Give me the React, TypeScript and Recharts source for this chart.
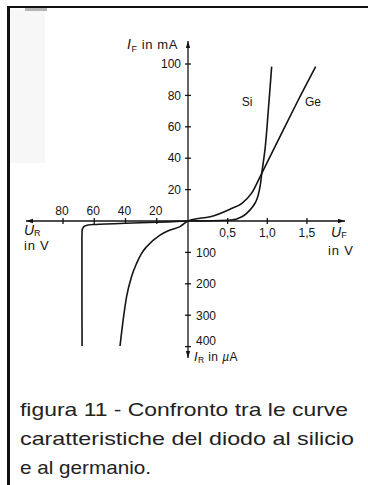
import React from 'react';
import { LineChart, Line, XAxis, YAxis, ReferenceLine, ReferenceDot } from 'recharts';

// ---- Data ----
// Silicon, forward: U_F in V, I_F in mA
const siForwardV = [0, 0.3, 0.5, 0.58, 0.635, 0.69, 0.74, 0.795, 0.845, 0.905, 0.93, 0.97, 1.013, 1.035, 1.055];
const siForwardI = [0, 0.2, 0.5, 0.9, 1.7, 3.0, 4.9, 7.8, 11.3, 21.0, 30.4, 45.2, 70.7, 85.0, 98.3];
// Silicon, reverse: U_R in V, I_R in µA
const siReverseV = [0, 10, 20, 40, 60, 64, 66.8, 67.8, 67.9, 67.9, 67.8];
const siReverseI = [0, 2, 4, 7, 11, 12.5, 18.5, 32, 60, 200, 398];
// Germanium, forward: U_F in V, I_F in mA
const geForwardV = [0, 0.15, 0.28, 0.53, 0.68, 0.8, 0.93, 1.16, 1.37, 1.61];
const geForwardI = [0, 1.7, 2.7, 7.5, 11.3, 17.6, 30.4, 53.7, 75.0, 98.3];
// Germanium, reverse: U_R in V, I_R in µA
const geReverseV = [0, 5.1, 11.5, 17.9, 26.5, 29.7, 32.9, 36.1, 39.3, 41.5, 43.5];
const geReverseI = [0, 18, 29, 45, 82, 103, 135, 177, 241, 315, 398];

// Tick values
const fwdCurrentTicks = [20, 40, 60, 80, 100]; // mA
const revCurrentTicks = [100, 200, 300, 400]; // µA
const fwdVoltageTicks = [0.5, 1.0, 1.5]; // V
const fwdVoltageLabels = ['0,5', '1,0', '1,5'];
const revVoltageTicks = [20, 40, 60, 80]; // V

// Caption
const captionLines = [
  'figura 11 - Confronto tra le curve',
  'caratteristiche del diodo al silicio',
  'e al  germanio.',
];

// ---- Scales of the figure's four half-axes (display units: forward V, forward mA) ----
const UR_SCALE = 0.0197; // display units per reverse volt (20 V spans like ~0.39 V forward)
const IR_SCALE = 0.2; // display units per reverse µA (100 µA spans like 20 mA)

const W = 368;
const H = 485;
const X_DOMAIN: [number, number] = [-2.3707, 2.2699];
const Y_DOMAIN: [number, number] = [-168.15, 140.76];
const X_AXIS_EXTENT = [-2.043, 1.98];
const Y_AXIS_EXTENT = [114.6, -87.3];

const FONT = "'Liberation Sans', Arial, Helvetica, sans-serif";
const INK = '#141414';

const fwdTable = (v: number[], i: number[]) => v.map((x, k) => ({ x, y: i[k] }));
const revTable = (v: number[], i: number[]) => v.map((x, k) => ({ x: -x * UR_SCALE, y: -i[k] * IR_SCALE }));

// Silicon as one path ordered by current (bottom -> top)
const siData = [...revTable(siReverseV, siReverseI).slice(1).reverse(), ...fwdTable(siForwardV, siForwardI)];
// Germanium ordered by voltage (left -> right)
const geData = [...revTable(geReverseV, geReverseI).slice(1).reverse(), ...fwdTable(geForwardV, geForwardI)];

const arrowLine = (p: any) => {
  const { x1, y1, x2, y2 } = p;
  const dx = x2 - x1;
  const dy = y2 - y1;
  const len = Math.hypot(dx, dy) || 1;
  const ux = dx / len;
  const uy = dy / len;
  const L = 7;
  const hw = 2.2;
  const head = (tx: number, ty: number, sx: number, sy: number) => {
    const bx = tx - sx * L;
    const by = ty - sy * L;
    return `M${tx},${ty} L${bx - sy * hw},${by + sx * hw} L${bx + sy * hw},${by - sx * hw} Z`;
  };
  return (
    <g>
      <line x1={x1} y1={y1} x2={x2} y2={y2} stroke={INK} strokeWidth={1.3} />
      <path d={head(x2, y2, ux, uy)} fill={INK} />
      <path d={head(x1, y1, -ux, -uy)} fill={INK} />
    </g>
  );
};

const tickText = {
  fontFamily: FONT,
  fontSize: 12,
  fill: INK,
};

export default function App() {
  return (
    <div style={{ position: 'absolute', left: 0, top: 0, width: W, height: H, background: '#fff', overflow: 'hidden' }}>
      <div style={{ position: 'absolute', left: 10, top: 10, width: 35, height: 153, background: '#f7f7f7' }} />
      <div style={{ position: 'absolute', left: 25, top: 8, width: 22, height: 3, background: '#b5b5b5' }} />
      <div
        style={{
          position: 'absolute',
          left: 7,
          top: 6,
          width: W - 7,
          height: H - 6,
          borderLeft: '3px solid #111',
          borderTop: '2px solid #111',
          boxSizing: 'border-box',
        }}
      />
      <div style={{ position: 'absolute', left: 0, top: 0 }}>
        <LineChart width={W} height={H} margin={{ top: 0, right: 0, bottom: 0, left: 0 }}>
          <XAxis type="number" dataKey="x" domain={X_DOMAIN} allowDataOverflow hide />
          <YAxis type="number" dataKey="y" domain={Y_DOMAIN} allowDataOverflow hide />

          <ReferenceLine
            segment={[{ x: X_AXIS_EXTENT[0], y: 0 }, { x: X_AXIS_EXTENT[1], y: 0 }]}
            shape={arrowLine}
            ifOverflow="visible"
          />
          <ReferenceLine
            segment={[{ x: 0, y: Y_AXIS_EXTENT[0] }, { x: 0, y: Y_AXIS_EXTENT[1] }]}
            shape={arrowLine}
            ifOverflow="visible"
          />

          {fwdCurrentTicks.map((t) => (
            <ReferenceDot
              key={'fi' + t}
              x={0}
              y={t}
              r={0}
              shape={(p: any) => (
                <g>
                  <line x1={p.cx - 3} y1={p.cy} x2={p.cx + 3} y2={p.cy} stroke={INK} strokeWidth={1.3} />
                  <text x={p.cx - 7} y={p.cy + 4.3} textAnchor="end" {...tickText}>
                    {t}
                  </text>
                </g>
              )}
            />
          ))}
          {revCurrentTicks.map((t, k) => (
            <ReferenceDot
              key={'ri' + t}
              x={0}
              y={-t * IR_SCALE}
              r={0}
              shape={(p: any) => (
                <g>
                  <line x1={p.cx - 3} y1={p.cy} x2={p.cx + 3} y2={p.cy} stroke={INK} strokeWidth={1.3} />
                  <text x={p.cx + 8} y={p.cy + (k === revCurrentTicks.length - 1 ? -1.5 : 4.3)} textAnchor="start" {...tickText}>
                    {t}
                  </text>
                </g>
              )}
            />
          ))}
          {fwdVoltageTicks.map((t, k) => (
            <ReferenceDot
              key={'fv' + t}
              x={t}
              y={0}
              r={0}
              shape={(p: any) => (
                <g>
                  <line x1={p.cx} y1={p.cy - 3} x2={p.cx} y2={p.cy + 3} stroke={INK} strokeWidth={1.3} />
                  <text x={p.cx} y={p.cy + 16} textAnchor="middle" {...tickText}>
                    {fwdVoltageLabels[k]}
                  </text>
                </g>
              )}
            />
          ))}
          {revVoltageTicks.map((t) => (
            <ReferenceDot
              key={'rv' + t}
              x={-t * UR_SCALE}
              y={0}
              r={0}
              shape={(p: any) => (
                <g>
                  <line x1={p.cx} y1={p.cy - 3} x2={p.cx} y2={p.cy + 3} stroke={INK} strokeWidth={1.3} />
                  <text x={p.cx - 1} y={p.cy - 6} textAnchor="middle" {...tickText}>
                    {t}
                  </text>
                </g>
              )}
            />
          ))}

          {/* Axis titles anchored at the axis ends */}
          <ReferenceDot
            x={0}
            y={Y_AXIS_EXTENT[0]}
            r={0}
            ifOverflow="visible"
            shape={(p: any) => (
              <text x={p.cx - 10} y={p.cy + 8} textAnchor="end" fontFamily={FONT} fontSize={13} fill={INK} letterSpacing={0.6}>
                <tspan fontStyle="italic" fontSize={14}>I</tspan>
                <tspan fontSize={9} dy={3}>F</tspan>
                <tspan dy={-3}>{' in  mA'}</tspan>
              </text>
            )}
          />
          <ReferenceDot
            x={0}
            y={Y_AXIS_EXTENT[1]}
            r={0}
            ifOverflow="visible"
            shape={(p: any) => (
              <text x={p.cx + 6} y={p.cy + 3} textAnchor="start" fontFamily={FONT} fontSize={12} fill={INK} letterSpacing={0.4}>
                <tspan fontStyle="italic" fontSize={13}>I</tspan>
                <tspan fontSize={8.5} dy={2}>R</tspan>
                <tspan dy={-2}>{' in '}</tspan>
                <tspan fontStyle="italic">µ</tspan>
                <tspan>A</tspan>
              </text>
            )}
          />
          <ReferenceDot
            x={X_AXIS_EXTENT[0]}
            y={0}
            r={0}
            ifOverflow="visible"
            shape={(p: any) => (
              <g fontFamily={FONT} fill={INK}>
                <text x={p.cx - 2} y={p.cy + 14} fontSize={14}>
                  <tspan fontStyle="italic">U</tspan>
                  <tspan fontSize={9} dy={1}>R</tspan>
                </text>
                <text x={p.cx - 2} y={p.cy + 29.5} fontSize={13} letterSpacing={0.8}>
                  in V
                </text>
              </g>
            )}
          />
          <ReferenceDot
            x={X_AXIS_EXTENT[1]}
            y={0}
            r={0}
            ifOverflow="visible"
            shape={(p: any) => (
              <g fontFamily={FONT} fill={INK}>
                <text x={p.cx - 14} y={p.cy + 16} fontSize={14}>
                  <tspan fontStyle="italic">U</tspan>
                  <tspan fontSize={9} dy={1}>F</tspan>
                </text>
                <text x={p.cx - 17} y={p.cy + 34} fontSize={13} letterSpacing={0.8}>
                  in V
                </text>
              </g>
            )}
          />

          {/* Curve labels */}
          <ReferenceDot
            x={0.744}
            y={75.5}
            r={0}
            shape={(p: any) => (
              <text x={p.cx} y={p.cy + 4} textAnchor="middle" {...tickText}>
                Si
              </text>
            )}
          />
          <ReferenceDot
            x={1.576}
            y={75.5}
            r={0}
            shape={(p: any) => (
              <text x={p.cx} y={p.cy + 4} textAnchor="middle" {...tickText}>
                Ge
              </text>
            )}
          />

          <Line
            data={siData}
            dataKey="y"
            type="monotoneY"
            stroke={INK}
            strokeWidth={1.6}
            dot={false}
            activeDot={false}
            isAnimationActive={false}
          />
          <Line
            data={geData}
            dataKey="y"
            type="monotone"
            stroke={INK}
            strokeWidth={1.6}
            dot={false}
            activeDot={false}
            isAnimationActive={false}
          />
        </LineChart>
      </div>
      <svg width={W} height={90} style={{ position: 'absolute', left: 0, top: 395 }}>
        {captionLines.map((s, k) => (
          <text
            key={k}
            x={20}
            y={21 + k * 28.8}
            fontFamily={FONT}
            fontSize={19}
            fill="#222"
            textLength={[328, 334, 131][k]}
            lengthAdjust="spacingAndGlyphs"
          >
            {s}
          </text>
        ))}
      </svg>
    </div>
  );
}
